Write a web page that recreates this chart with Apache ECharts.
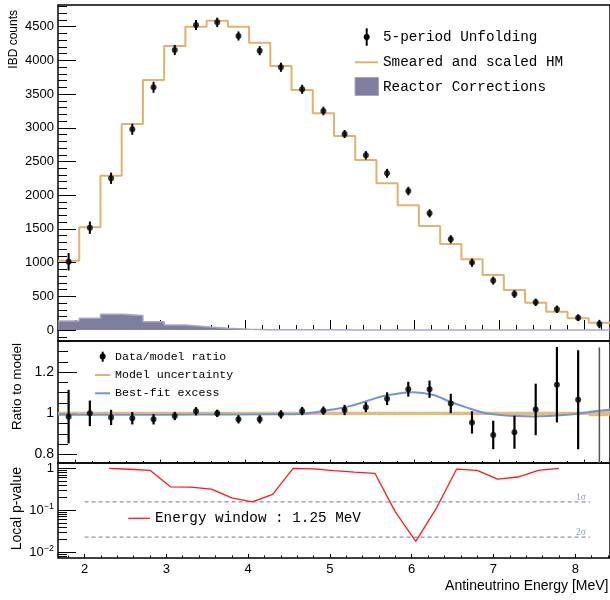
<!DOCTYPE html>
<html><head><meta charset="utf-8">
<script src="https://cdn.jsdelivr.net/npm/echarts@6/dist/echarts.min.js"></script>
<style>html,body{margin:0;padding:0;background:#fff}#c{width:610px;height:600px}</style>
</head><body><div id="c"></div>
<script>
// ---------------- data ----------------
const binEdges = [1.8,2.05,2.3,2.55,2.8,3.05,3.3,3.55,3.8,4.05,4.3,4.55,4.8,5.05,5.3,5.55,5.8,6.05,6.3,6.55,6.8,7.05,7.3,7.55,7.8,8.05,8.3];
const modelHM = [1028,1524,2289,3056,3709,4214,4500,4589,4500,4263,3917,3561,3215,2878,2522,2176,1850,1543,1276,1049,816,593,405,272,174,108];
const unfolded = [1013,1518,2251,2978,3601,4154,4525,4565,4362,4144,3898,3571,3249,2908,2592,2325,2062,1731,1346,1000,733,534,411,308,183,89];
const unfoldedErr = [130,92,84,82,82,75,74,69,67,67,67,67,63,60,62,66,62,60,60,60,58,58,55,55,50,62];
const reactorCorr = [134,175,235,215,122,75,48,25,12,5,4,3,3,2,2,2,2,1,1,1,1,1,1,1,1,1];
const ratio = [0.984,1.0,0.98,0.976,0.971,0.987,1.01,1.0,0.971,0.971,0.995,1.011,1.013,1.016,1.03,1.071,1.117,1.117,1.048,0.956,0.895,0.908,1.019,1.139,1.066];
const ratioErr = [0.13,0.062,0.037,0.03,0.025,0.02,0.02,0.018,0.02,0.02,0.02,0.02,0.02,0.025,0.024,0.031,0.036,0.042,0.047,0.054,0.069,0.08,0.125,0.183,0.24];
const lastRatio = [0.70];
const lastRatioErr = [0.62];
const modelUnc = [0.008,0.008,0.008,0.008,0.008,0.008,0.008,0.008,0.008,0.008,0.008,0.008,0.008,0.008,0.008,0.008,0.008,0.008,0.008,0.008,0.008,0.008,0.008,0.008,0.008,0.014];
const fitE = [1.8,2.5,3.5,4.3,4.65,4.85,5.04,5.24,5.44,5.63,5.83,5.98,6.22,6.42,6.61,6.81,7.01,7.4,7.79,8.18,8.3];
const fitRatio = [0.993,0.993,0.994,0.995,0.997,1.006,1.019,1.035,1.06,1.084,1.097,1.102,1.089,1.056,1.029,1.003,0.992,0.985,0.993,1.013,1.017];
const pvalE = [2.3,2.55,2.8,3.05,3.3,3.55,3.8,4.05,4.3,4.55,4.8,5.05,5.3,5.55,5.8,6.05,6.3,6.55,6.8,7.05,7.3,7.55,7.8];
const pval = [1.0,0.95,0.895,0.362,0.355,0.319,0.197,0.158,0.238,1.0,0.97,0.885,0.815,0.76,0.091,0.018,0.11,0.96,0.895,0.554,0.62,0.895,1.0];
const sigmaP = [0.1587,0.02275];
const sigmaNames = ['1σ','2σ'];
const sigmaRange = [2.0,8.18];
const xTickLabels = [2,3,4,5,6,7,8];
const countTicks = [0,500,1000,1500,2000,2500,3000,3500,4000,4500];
const ratioTicks = [0.8,1,1.2];
const pTicks = [0.01,0.1,1];

// ---------------- helpers ----------------
const FONT = 'Liberation Sans';
const MONO = 'Liberation Mono';
function range(a, b, s) { const r = []; for (let v = a; v <= b + 1e-9; v += s) r.push(+v.toFixed(4)); return r; }
const xMinorTop = range(1.8, 8.2, 0.2);
const xMinorBot = range(1.8, 8.4, 0.2);
const countMinor = range(-100, 4800, 100);
const ratioMinor = range(0.8, 1.35, 0.05);
const pMinor = [0.008,0.009,0.02,0.03,0.04,0.05,0.06,0.07,0.08,0.09,0.2,0.3,0.4,0.5,0.6,0.7,0.8,0.9];

const centers = binEdges.slice(0, -1).map((e, i) => (e + binEdges[i + 1]) / 2);
function histData(vals) {
  const d = vals.map((v, i) => [binEdges[i], v]);
  d.push([binEdges[binEdges.length - 1], vals[vals.length - 1]]);
  return d;
}
const plain = v => String(+(+v).toFixed(4));

function xAx(grid, min, max, ticks, len, labels) {
  return {type: 'value', gridIndex: grid, min: min, max: max, position: 'bottom',
    axisLine: {show: false}, splitLine: {show: false},
    axisTick: {show: true, inside: true, length: len, customValues: ticks, lineStyle: {color: '#000', width: 1}},
    axisLabel: labels ? {show: true, customValues: labels, formatter: plain, fontFamily: FONT, fontSize: 13, color: '#000', margin: 5} : {show: false}};
}
function yAx(grid, type, min, max, ticks, len, labels, fmt, fs) {
  const a = {type: type, gridIndex: grid, min: min, max: max, position: 'left',
    axisLine: {show: false}, splitLine: {show: false},
    axisTick: {show: true, inside: true, length: len, customValues: ticks, lineStyle: {color: '#000', width: 1}},
    axisLabel: labels ? {show: true, customValues: labels, formatter: plain, fontFamily: FONT, fontSize: fs || 13, color: '#000', margin: 4} : {show: false}};
  if (type === 'log') a.logBase = 10;
  if (labels && fmt) { a.axisLabel.formatter = fmt; a.axisLabel.rich = {b: {fontFamily: FONT, fontSize: 13, color: '#000'}, sup: {fontFamily: FONT, fontSize: 9, color: '#000', padding: [0, 0, 8, 0]}}; }
  return a;
}

function errSeries(xi, yi, data, color, width, clip) {
  return {type: 'custom', xAxisIndex: xi, yAxisIndex: yi, clip: !!clip, silent: true, z: 5,
    encode: {x: 0, y: 1},
    renderItem: function (params, api) {
      const x = api.value(0), y = api.value(1), e = api.value(2);
      const p1 = api.coord([x, y + e]), p2 = api.coord([x, y - e]);
      return {type: 'line', shape: {x1: p1[0], y1: p1[1], x2: p2[0], y2: p2[1]},
        style: {stroke: color, lineWidth: width}};
    },
    data: data};
}

const ORANGE = '#e1b26f';
const PURPLE = '#7e7e9e';
const LAVENDER = '#a6a6cc';
const BLUE = '#6f96d8';

const option = {
  animation: false,
  backgroundColor: '#fff',
  grid: [
    {left: 58, top: 5, width: 552, height: 336, show: true, borderColor: '#000', borderWidth: 1.5, backgroundColor: 'transparent'},
    {left: 58, top: 341, width: 552, height: 122, show: true, borderColor: '#000', borderWidth: 1.5, backgroundColor: 'transparent'},
    {left: 58, top: 463, width: 552, height: 95, show: true, borderColor: '#000', borderWidth: 1.5, backgroundColor: 'transparent'}
  ],
  xAxis: [
    xAx(0, 1.8, 8.3, xTickLabels, 10, null),
    xAx(0, 1.8, 8.3, xMinorTop, 5, null),
    xAx(1, 1.8, 8.3, xTickLabels, 3.5, null),
    xAx(1, 1.8, 8.3, xMinorTop, 2, null),
    xAx(2, 1.675, 8.425, xTickLabels, 4, xTickLabels),
    xAx(2, 1.675, 8.425, xMinorBot, 2.5, null)
  ],
  yAxis: [
    yAx(0, 'value', -163, 4822, countTicks, 18, countTicks, null, 13),
    yAx(0, 'value', -163, 4822, countMinor, 9, null),
    yAx(1, 'value', 0.759, 1.351, ratioTicks, 19, ratioTicks, null, 14),
    yAx(1, 'value', 0.759, 1.351, ratioMinor, 10, null),
    yAx(2, 'log', 0.0072, 1.34, pTicks, 18, pTicks, function (v) {
      const k = Math.round(Math.log10(v));
      return k === 0 ? '{b|1}' : '{b|10}{sup|\u2212' + (-k) + '}';
    }),
    yAx(2, 'log', 0.0072, 1.34, pMinor, 9, null)
  ],
  series: [
    // top panel
    {type: 'line', name: 'Reactor Corrections', xAxisIndex: 0, yAxisIndex: 0, step: 'end', showSymbol: false, symbol: 'none',
      data: histData(reactorCorr), lineStyle: {color: LAVENDER, width: 1.5}, areaStyle: {color: PURPLE, opacity: 1, origin: 0}, z: 2},
    {type: 'line', name: 'Smeared and scaled HM', xAxisIndex: 0, yAxisIndex: 0, step: 'end', showSymbol: false, symbol: 'none',
      data: histData(modelHM), lineStyle: {color: ORANGE, width: 2}, z: 3},
    errSeries(0, 0, centers.map((c, i) => [c, unfolded[i], unfoldedErr[i]]), '#000', 2, false),
    {type: 'scatter', name: '5-period Unfolding', xAxisIndex: 0, yAxisIndex: 0, symbolSize: 6,
      itemStyle: {color: '#000'}, data: centers.map((c, i) => [c, unfolded[i]]), z: 6},
    // middle panel
    {type: 'custom', name: 'Model uncertainty', xAxisIndex: 2, yAxisIndex: 2, clip: true, silent: true, z: 2,
      encode: {x: [0, 1], y: 2},
      renderItem: function (params, api) {
        const a = api.coord([api.value(0), 1 + api.value(2)]);
        const b = api.coord([api.value(1), 1 - api.value(2)]);
        return {type: 'rect', shape: {x: a[0], y: a[1], width: b[0] - a[0], height: b[1] - a[1]},
          style: {fill: ORANGE, opacity: 0.9}};
      },
      data: modelUnc.map((u, i) => [binEdges[i], binEdges[i + 1], u])},
    {type: 'line', name: 'Best-fit excess', xAxisIndex: 2, yAxisIndex: 2, smooth: 0.35, showSymbol: false, symbol: 'none',
      data: fitE.map((e, i) => [e, fitRatio[i]]), lineStyle: {color: BLUE, width: 2}, z: 3},
    errSeries(2, 2, centers.slice(0, ratio.length).map((c, i) => [c, ratio[i], ratioErr[i]]), '#000', 2.2, true),
    errSeries(2, 2, [[centers[centers.length - 1], lastRatio[0], lastRatioErr[0]]], '#555', 1.5, true),
    {type: 'scatter', name: 'Data/model ratio', xAxisIndex: 2, yAxisIndex: 2, symbolSize: 6,
      itemStyle: {color: '#000'}, data: ratio.map((r, i) => [centers[i], r]), z: 6},
    // bottom panel
    {type: 'line', xAxisIndex: 4, yAxisIndex: 4, showSymbol: false, symbol: 'none', silent: true,
      data: [[sigmaRange[0], sigmaP[0]], [sigmaRange[1], sigmaP[0]]], lineStyle: {color: '#8798a8', width: 1.2, type: [4, 3]}, z: 2},
    {type: 'line', xAxisIndex: 4, yAxisIndex: 4, showSymbol: false, symbol: 'none', silent: true,
      data: [[sigmaRange[0], sigmaP[1]], [sigmaRange[1], sigmaP[1]]], lineStyle: {color: '#8798a8', width: 1.2, type: [4, 3]}, z: 2},
    {type: 'line', name: 'Energy window : 1.25 MeV', xAxisIndex: 4, yAxisIndex: 4, showSymbol: false, symbol: 'none',
      data: pvalE.map((e, i) => [e, pval[i]]), lineStyle: {color: '#ff1a1a', width: 1.3}, z: 3}
  ],
  graphic: [
    // axis titles
    {type: 'text', x: 14, y: 10, rotation: Math.PI / 2, style: {text: 'IBD counts', fontFamily: FONT, fontSize: 12, fill: '#000', align: 'right', verticalAlign: 'middle'}},
    {type: 'text', x: 17.5, y: 343, rotation: Math.PI / 2, style: {text: 'Ratio to model', fontFamily: FONT, fontSize: 13.5, fill: '#000', align: 'right', verticalAlign: 'middle'}},
    {type: 'text', x: 17.5, y: 467, rotation: Math.PI / 2, style: {text: 'Local p-value', fontFamily: FONT, fontSize: 14, fill: '#000', align: 'right', verticalAlign: 'middle'}},
    {type: 'text', x: 608.5, y: 586, style: {text: 'Antineutrino Energy [MeV]', fontFamily: FONT, fontSize: 14, fill: '#000', align: 'right', verticalAlign: 'middle'}},
    // top legend
    {type: 'line', shape: {x1: 366.7, y1: 28.3, x2: 366.7, y2: 45.7}, style: {stroke: '#000', lineWidth: 2}},
    {type: 'circle', shape: {cx: 366.7, cy: 37, r: 3}, style: {fill: '#000'}},
    {type: 'text', x: 383, y: 37.5, style: {text: '5-period Unfolding', fontFamily: MONO, fontSize: 14.3, fill: '#000', verticalAlign: 'middle'}},
    {type: 'line', shape: {x1: 355, y1: 62.3, x2: 378, y2: 62.3}, style: {stroke: ORANGE, lineWidth: 2}},
    {type: 'text', x: 383, y: 62.5, style: {text: 'Smeared and scaled HM', fontFamily: MONO, fontSize: 14.3, fill: '#000', verticalAlign: 'middle'}},
    {type: 'rect', shape: {x: 355, y: 77.5, width: 23.5, height: 18}, style: {fill: PURPLE, stroke: LAVENDER, lineWidth: 1}},
    {type: 'text', x: 383, y: 87.5, style: {text: 'Reactor Corrections', fontFamily: MONO, fontSize: 14.3, fill: '#000', verticalAlign: 'middle'}},
    // middle legend
    {type: 'line', shape: {x1: 102.7, y1: 351.7, x2: 102.7, y2: 361.7}, style: {stroke: '#000', lineWidth: 2}},
    {type: 'circle', shape: {cx: 102.7, cy: 356.5, r: 3}, style: {fill: '#000'}},
    {type: 'text', x: 115, y: 356.5, style: {text: 'Data/model ratio', fontFamily: MONO, fontSize: 11.6, fill: '#000', verticalAlign: 'middle'}},
    {type: 'line', shape: {x1: 95, y1: 375, x2: 110, y2: 375}, style: {stroke: ORANGE, lineWidth: 2}},
    {type: 'text', x: 115, y: 375, style: {text: 'Model uncertainty', fontFamily: MONO, fontSize: 11.6, fill: '#000', verticalAlign: 'middle'}},
    {type: 'line', shape: {x1: 95, y1: 393.3, x2: 110, y2: 393.3}, style: {stroke: BLUE, lineWidth: 2}},
    {type: 'text', x: 115, y: 393.3, style: {text: 'Best-fit excess', fontFamily: MONO, fontSize: 11.6, fill: '#000', verticalAlign: 'middle'}},
    // bottom legend
    {type: 'line', shape: {x1: 128.3, y1: 518.3, x2: 150, y2: 518.3}, style: {stroke: '#ff1a1a', lineWidth: 1.3}},
    {type: 'text', x: 155, y: 518.5, style: {text: 'Energy window : 1.25 MeV', fontFamily: MONO, fontSize: 14.3, fill: '#000', verticalAlign: 'middle'}},
    // sigma labels
    {type: 'text', x: 581, y: 497.5, style: {text: sigmaNames[0], fontFamily: 'Liberation Serif', fontSize: 9.5, fill: '#8ea4b4', align: 'center', verticalAlign: 'middle'}},
    {type: 'text', x: 581, y: 532.5, style: {text: sigmaNames[1], fontFamily: 'Liberation Serif', fontSize: 9.5, fill: '#8ea4b4', align: 'center', verticalAlign: 'middle'}}
  ]
};

const chart = echarts.init(document.getElementById('c'), null, {renderer: 'canvas'});
chart.setOption(option);
</script>
</body></html>
